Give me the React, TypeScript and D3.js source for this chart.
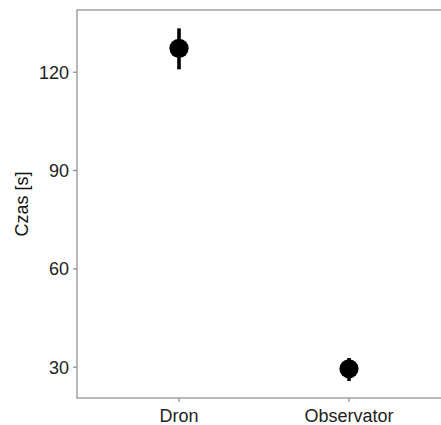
import React, { useEffect, useRef } from 'react';
import * as d3 from 'd3';

const GROUPS = ['Dron', 'Observator'];
const MEANS = [127.3, 29.5];
const LOWER = [120.9, 25.8];
const UPPER = [133.4, 32.8];
const Y_TICKS = [30, 60, 90, 120];

const W = 441;
const H = 425;
const MARGIN = { top: 10, right: -10, bottom: 27, left: 77 };

export default function App() {
  const svgRef = useRef<SVGSVGElement | null>(null);

  useEffect(() => {
    const svg = d3.select(svgRef.current);
    svg.selectAll('*').remove();

    const x = d3.scalePoint<string>()
      .domain(GROUPS)
      .range([MARGIN.left, W - MARGIN.right])
      .padding(0.6);

    const y = d3.scaleLinear()
      .domain([20.6, 139.0])
      .range([H - MARGIN.bottom, MARGIN.top]);

    const font = 'Liberation Sans, Arial, sans-serif';
    const axisCol = '#8a8a8a';

    // panel border
    svg.append('rect')
      .attr('x', MARGIN.left)
      .attr('y', MARGIN.top)
      .attr('width', W - MARGIN.right - MARGIN.left)
      .attr('height', H - MARGIN.bottom - MARGIN.top)
      .attr('fill', 'none')
      .attr('stroke', axisCol)
      .attr('stroke-width', 1.2);

    // y ticks
    Y_TICKS.forEach(t => {
      svg.append('line')
        .attr('x1', MARGIN.left - 4).attr('x2', MARGIN.left)
        .attr('y1', y(t)).attr('y2', y(t))
        .attr('stroke', axisCol).attr('stroke-width', 1.2);
      svg.append('text')
        .attr('x', MARGIN.left - 8)
        .attr('y', y(t))
        .attr('dy', '0.36em')
        .attr('text-anchor', 'end')
        .style('font-family', font)
        .style('font-size', '18px')
        .style('fill', '#222')
        .text(t);
    });

    // x ticks
    GROUPS.forEach(g => {
      svg.append('line')
        .attr('x1', x(g)!).attr('x2', x(g)!)
        .attr('y1', H - MARGIN.bottom).attr('y2', H - MARGIN.bottom + 4)
        .attr('stroke', axisCol).attr('stroke-width', 1.2);
      svg.append('text')
        .attr('x', x(g)!)
        .attr('y', 421.5)
        .attr('text-anchor', 'middle')
        .style('font-family', font)
        .style('font-size', '18px')
        .style('fill', '#222')
        .text(g);
    });

    // y title
    svg.append('text')
      .attr('transform', `translate(28,${(MARGIN.top + H - MARGIN.bottom) / 2}) rotate(-90)`)
      .attr('text-anchor', 'middle')
      .style('font-family', font)
      .style('font-size', '18px')
      .style('fill', '#111')
      .text('Czas [s]');

    // error bars + points
    GROUPS.forEach((g, i) => {
      svg.append('line')
        .attr('x1', x(g)!).attr('x2', x(g)!)
        .attr('y1', y(LOWER[i])).attr('y2', y(UPPER[i]))
        .attr('stroke', '#000').attr('stroke-width', 3.6);
      svg.append('circle')
        .attr('cx', x(g)!)
        .attr('cy', y(MEANS[i]))
        .attr('r', 9.6)
        .attr('fill', '#000');
    });
  }, []);

  return (
    <svg
      ref={svgRef}
      width={W}
      height={H}
      style={{ position: 'absolute', left: 0, top: 0, background: '#fff' }}
    />
  );
}
